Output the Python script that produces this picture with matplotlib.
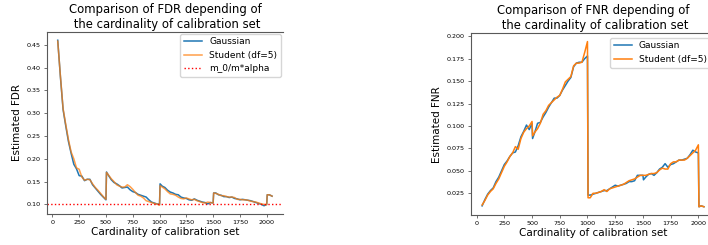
import matplotlib
matplotlib.use("Agg")
import matplotlib.pyplot as plt

# cardinality of calibration set (extra points right after each jump)
card = [50, 75, 100, 125, 150, 175, 200, 225, 250, 275, 300, 325, 350, 375, 400,
        425, 450, 475, 500, 505, 525, 550, 575, 600, 625, 650, 675, 700, 725, 750,
        775, 800, 825, 850, 875, 900, 925, 950, 975, 1000, 1005, 1025, 1050, 1075,
        1100, 1125, 1150, 1175, 1200, 1225, 1250, 1275, 1300, 1325, 1350, 1375,
        1400, 1425, 1450, 1475, 1500, 1505, 1525, 1550, 1575, 1600, 1625, 1650,
        1675, 1700, 1725, 1750, 1775, 1800, 1825, 1850, 1875, 1900, 1925, 1950,
        1975, 2000, 2005, 2025, 2050]

fdr_gauss = [0.460, 0.380, 0.308, 0.272, 0.238, 0.212, 0.188, 0.178, 0.163, 0.162,
             0.152, 0.155, 0.155, 0.143, 0.136, 0.129, 0.122, 0.116, 0.110, 0.171,
             0.163, 0.154, 0.148, 0.145, 0.141, 0.136, 0.137, 0.138, 0.132, 0.128,
             0.126, 0.122, 0.120, 0.118, 0.116, 0.110, 0.105, 0.103, 0.101, 0.100,
             0.145, 0.140, 0.137, 0.131, 0.127, 0.125, 0.122, 0.121, 0.116, 0.114,
             0.113, 0.110, 0.109, 0.112, 0.109, 0.107, 0.105, 0.104, 0.101, 0.104,
             0.103, 0.125, 0.125, 0.121, 0.120, 0.117, 0.117, 0.115, 0.116, 0.113,
             0.112, 0.110, 0.111, 0.110, 0.109, 0.108, 0.106, 0.104, 0.102, 0.100,
             0.097, 0.100, 0.121, 0.121, 0.118]

fdr_student = [0.458, 0.382, 0.310, 0.275, 0.242, 0.215, 0.200, 0.180, 0.177, 0.160,
               0.153, 0.155, 0.154, 0.145, 0.137, 0.131, 0.124, 0.117, 0.111, 0.170,
               0.164, 0.156, 0.150, 0.143, 0.140, 0.138, 0.138, 0.143, 0.139, 0.133,
               0.126, 0.120, 0.118, 0.114, 0.108, 0.106, 0.104, 0.102, 0.101, 0.098,
               0.141, 0.138, 0.134, 0.128, 0.123, 0.122, 0.120, 0.116, 0.113, 0.112,
               0.114, 0.112, 0.110, 0.111, 0.108, 0.106, 0.104, 0.103, 0.105, 0.104,
               0.103, 0.125, 0.124, 0.122, 0.119, 0.119, 0.117, 0.116, 0.116, 0.115,
               0.111, 0.111, 0.110, 0.110, 0.109, 0.107, 0.106, 0.105, 0.103, 0.101,
               0.100, 0.099, 0.121, 0.121, 0.118]

fnr_gauss = [0.011, 0.018, 0.024, 0.028, 0.031, 0.038, 0.043, 0.050, 0.057, 0.061,
             0.066, 0.070, 0.071, 0.078, 0.088, 0.094, 0.101, 0.096, 0.103, 0.086,
             0.093, 0.103, 0.104, 0.110, 0.115, 0.121, 0.126, 0.131, 0.131, 0.134,
             0.140, 0.145, 0.150, 0.154, 0.166, 0.170, 0.171, 0.171, 0.175, 0.178,
             0.023, 0.023, 0.024, 0.025, 0.026, 0.027, 0.028, 0.028, 0.030, 0.032,
             0.034, 0.033, 0.034, 0.035, 0.036, 0.038, 0.038, 0.039, 0.045, 0.045,
             0.045, 0.040, 0.043, 0.046, 0.047, 0.045, 0.048, 0.052, 0.054, 0.058,
             0.054, 0.057, 0.058, 0.060, 0.062, 0.062, 0.063, 0.064, 0.068, 0.073,
             0.071, 0.070, 0.010, 0.011, 0.010]

fnr_student = [0.012, 0.017, 0.023, 0.027, 0.030, 0.036, 0.041, 0.048, 0.055, 0.060,
               0.066, 0.070, 0.077, 0.074, 0.086, 0.093, 0.097, 0.100, 0.105, 0.089,
               0.093, 0.097, 0.103, 0.113, 0.117, 0.123, 0.126, 0.129, 0.132, 0.134,
               0.141, 0.149, 0.152, 0.155, 0.167, 0.170, 0.170, 0.171, 0.182, 0.194,
               0.020, 0.020, 0.025, 0.025, 0.026, 0.027, 0.029, 0.027, 0.030, 0.031,
               0.032, 0.033, 0.034, 0.035, 0.037, 0.039, 0.040, 0.041, 0.043, 0.045,
               0.045, 0.045, 0.045, 0.046, 0.047, 0.047, 0.048, 0.051, 0.053, 0.052,
               0.052, 0.058, 0.060, 0.060, 0.062, 0.062, 0.062, 0.064, 0.067, 0.070,
               0.073, 0.079, 0.010, 0.011, 0.010]

alpha_level = 0.1

plt.rcParams['font.family'] = 'DejaVu Sans'
plt.rcParams['axes.edgecolor'] = '0.35'

fig = plt.figure(figsize=(7.08, 2.45), dpi=100)
ax1 = fig.add_axes([0.0664, 0.1265, 0.333, 0.743])
ax2 = fig.add_axes([0.6653, 0.1224, 0.3446, 0.7416])

# FDR
ax1.plot(card, fdr_gauss, color='tab:blue', lw=1.1, label='Gaussian')
ax1.plot(card, fdr_student, color='tab:orange', lw=1.1, alpha=0.75, label='Student (df=5)')
ax1.axhline(alpha_level, color='red', ls=':', lw=1.0, label='m_0/m*alpha')
ax1.set_title('Comparison of FDR depending of\n the cardinality of calibration set',
              fontsize=8.4, pad=3)
ax1.set_xlabel('Cardinality of calibration set', fontsize=7.5, labelpad=1)
ax1.set_ylabel('Estimated FDR', fontsize=7.5, labelpad=3)
ax1.legend(loc='upper right', fontsize=6.5, bbox_to_anchor=(1.0, 1.0), borderaxespad=0.2)
ax1.spines['right'].set_visible(False)

# FNR
ax2.plot(card, fnr_gauss, color='tab:blue', lw=1.1, label='Gaussian')
ax2.plot(card, fnr_student, color='tab:orange', lw=1.1, label='Student (df=5)')
ax2.set_title('Comparison of FNR depending of\n the cardinality of calibration set',
              fontsize=8.4, pad=3)
ax2.set_xlabel('Cardinality of calibration set', fontsize=7.5, labelpad=1)
ax2.set_ylabel('Estimated FNR', fontsize=7.5, labelpad=3)
ax2.legend(loc='upper right', fontsize=6.5)

for ax in (ax1, ax2):
    ax.set_xticks([0, 250, 500, 750, 1000, 1250, 1500, 1750, 2000])
    ax.tick_params(labelsize=4.6, length=2.5, width=0.6, pad=2, color='0.35')

fig.savefig('out.png', dpi=100)
